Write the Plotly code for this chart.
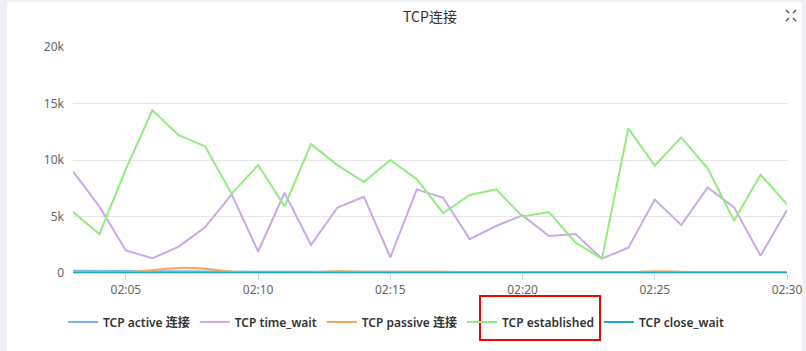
import plotly.graph_objects as go
import pandas as pd

times = pd.date_range("2024-01-01 02:03", "2024-01-01 02:30", freq="1min")

tcp_active = [200, 180, 160, 140, 130, 120, 110, 110, 100, 100, 100, 100, 100, 100, 100,
              100, 100, 100, 90, 90, 90, 90, 80, 80, 80, 80, 80, 80]
tcp_time_wait = [9000, 5870, 2000, 1300, 2330, 4070, 6960, 1900, 7100, 2480, 5800, 6750, 1390, 7400,
                 6660, 3000, 4160, 5100, 3270, 3450, 1270, 2240, 6500, 4250, 7580, 5800, 1530, 5570]
tcp_passive = [40, 50, 80, 250, 450, 380, 100, 50, 50, 60, 150, 120, 100, 120, 100,
               80, 60, 60, 50, 50, 40, 60, 150, 120, 80, 60, 50, 60]
tcp_established = [5400, 3450, 9200, 14400, 12200, 11200, 7000, 9550, 5900, 11400, 9550, 8050, 10000, 8300,
                   5300, 6900, 7400, 5000, 5400, 2700, 1270, 12800, 9500, 12000, 9260, 4630, 8700, 6080]
tcp_close_wait = [30, 30, 30, 30, 30, 30, 30, 30, 30, 30, 30, 30, 30, 30, 30,
                  30, 30, 30, 30, 30, 30, 30, 30, 30, 30, 30, 30, 30]

series = [
    ("TCP active 连接", tcp_active, "#7cb5ec", "linear"),
    ("TCP time_wait", tcp_time_wait, "#c9a9e6", "linear"),
    ("TCP passive 连接", tcp_passive, "#f7a35c", "spline"),
    ("TCP established", tcp_established, "#90ed7d", "linear"),
    ("TCP close_wait", tcp_close_wait, "#1fa8c4", "linear"),
]

W, H = 806, 351
L, R, T, B = 73, 787, 47, 273  # plot area in px

def px(x):
    return (x - L) / (R - L)

def py(y):
    return (B - y) / (B - T)

fig = go.Figure()
for name, vals, color, shape in series:
    fig.add_trace(go.Scatter(x=times, y=vals, name=name, mode="lines",
                             line=dict(color=color, width=2, shape=shape),
                             hoverinfo="x+y+name"))

shapes = [
    # gray page borders
    dict(type="rect", xref="paper", yref="paper", x0=px(0), x1=px(7), y0=py(H), y1=py(0),
         fillcolor="#eef0f5", line=dict(width=0), layer="below"),
    dict(type="rect", xref="paper", yref="paper", x0=px(802), x1=px(W), y0=py(H), y1=py(0),
         fillcolor="#eef0f5", line=dict(width=0), layer="below"),
    dict(type="rect", xref="paper", yref="paper", x0=px(0), x1=px(W), y0=py(2), y1=py(0),
         fillcolor="#eef0f5", line=dict(width=0), layer="below"),
    # red highlight box
    dict(type="rect", xref="paper", yref="paper", x0=px(480), x1=px(600), y0=py(340), y1=py(296),
         line=dict(color="#ff0000", width=2), fillcolor="rgba(0,0,0,0)"),
]
# expand icon (four small diagonal strokes)
for (x0, y0, x1, y1) in [(786, 10, 789, 13), (796, 10, 793, 13), (786, 21, 789, 18), (796, 21, 793, 18)]:
    shapes.append(dict(type="line", xref="paper", yref="paper", x0=px(x0), y0=py(y0),
                       x1=px(x1), y1=py(y1), line=dict(color="#555", width=1.5)))

fig.update_layout(
    width=W, height=H,
    margin=dict(l=L, r=W - R, t=T, b=H - B, autoexpand=False),
    paper_bgcolor="white", plot_bgcolor="white",
    title=dict(text="TCP连接", x=0.5, xref="paper", xanchor="center", y=1 - 17 / H, yanchor="middle",
               font=dict(family="Noto Sans CJK SC, Noto Sans", size=14, color="#333")),
    font=dict(family="Noto Sans, Noto Sans CJK SC", size=12, color="#666"),
    xaxis=dict(range=[times[0], times[-1]], tickformat="%H:%M", dtick=5 * 60 * 1000,
               tick0="2024-01-01 02:05", showgrid=False, showline=True, linecolor="#ccd6eb",
               linewidth=1, ticks="outside", ticklen=6, tickcolor="#ccd6eb", automargin=False,
               tickfont=dict(size=12, color="#666"), zeroline=False, fixedrange=True),
    yaxis=dict(range=[0, 20000], tickvals=[0, 5000, 10000, 15000, 20000],
               ticktext=["0", "5k", "10k", "15k", "20k"], showgrid=True, gridcolor="#e6e6e6",
               gridwidth=1, zeroline=False, showline=False, ticks="", ticklabelstandoff=8,
               automargin=False,
               tickfont=dict(size=12, color="#666"), fixedrange=True),
    legend=dict(orientation="h", x=px(63), xanchor="left", y=py(322), yanchor="middle",
                font=dict(family="Noto Sans, Noto Sans CJK SC", size=12, color="#333", weight=600),
                bgcolor="rgba(0,0,0,0)", itemclick=False, itemdoubleclick=False),
    shapes=shapes,
    showlegend=True,
)

fig.write_html("out.html")
